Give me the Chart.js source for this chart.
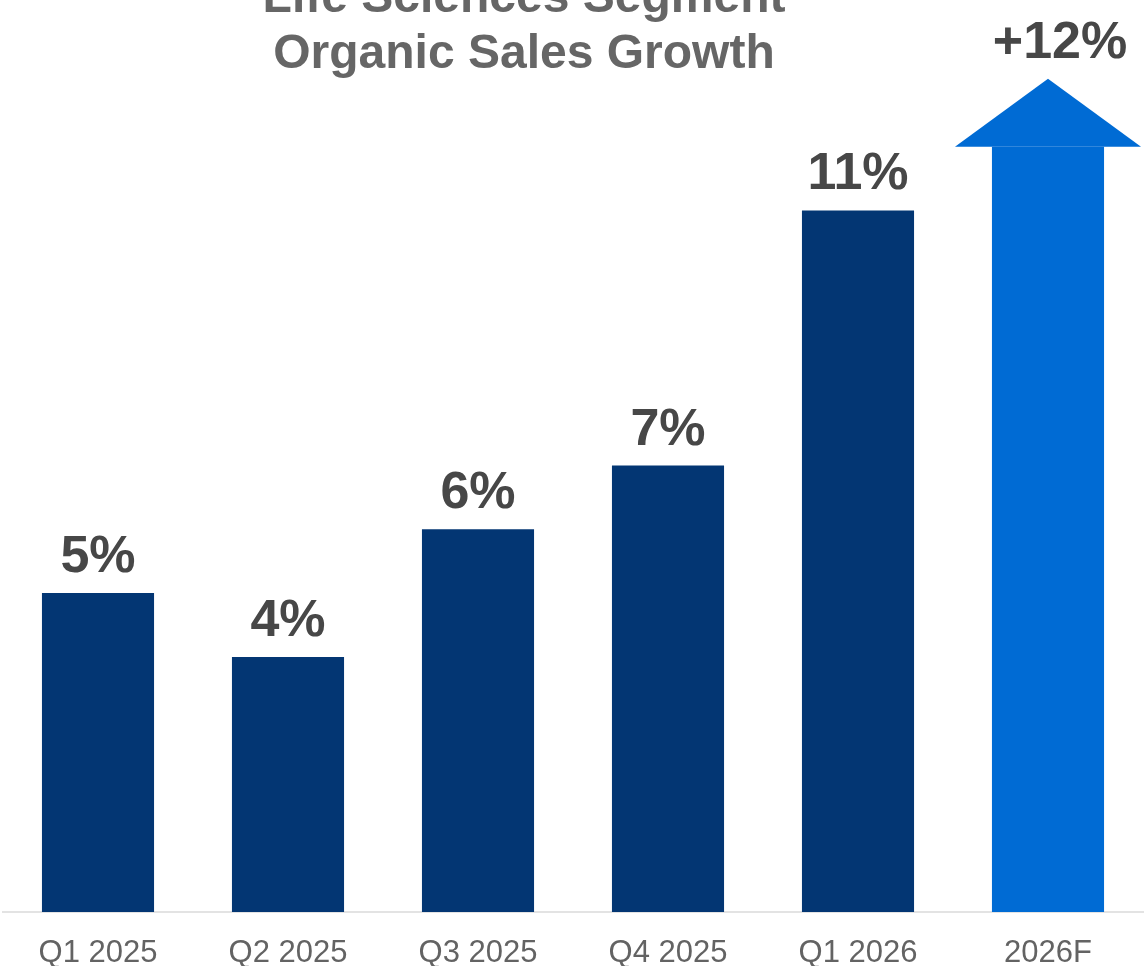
<!DOCTYPE html>
<html>
<head>
<meta charset="utf-8">
<title>Life Sciences Segment Organic Sales Growth</title>
<script src="https://cdn.jsdelivr.net/npm/chart.js@4.4.1/dist/chart.umd.min.js"></script>
<style>
  html, body { margin: 0; padding: 0; background: #ffffff; }
  #wrap { position: relative; width: 1145px; height: 966px; }
</style>
</head>
<body>
<div id="wrap"><canvas id="growth__canvas"></canvas></div>
<script>
const periods = ["Q1 2025", "Q2 2025", "Q3 2025", "Q4 2025", "Q1 2026", "2026F"];
const growthPct = [5, 4, 6, 7, 11, 12];
const growthLabels = ["5%", "4%", "6%", "7%", "11%", "+12%"];
const titleLines = ["Life Sciences Segment", "Organic Sales Growth"];

const FONT = '"Liberation Sans", Arial, Helvetica, sans-serif';
const NAVY = "#033673";
const BLUE = "#006bd4";
const FORECAST = periods.length - 1;

// two-line heading; the first line runs off the top edge
const headingPlugin = {
  id: "heading",
  afterDraw(chart) {
    const ctx = chart.ctx;
    ctx.save();
    ctx.fillStyle = "#666666";
    ctx.font = "bold 48px " + FONT;
    ctx.textAlign = "center";
    ctx.textBaseline = "alphabetic";
    ctx.fillText(titleLines[0], 524, 12);
    ctx.fillText(titleLines[1], 524, 68);
    ctx.restore();
  },
};

// the forecast column gets an arrow head on top of its bar
const arrowPlugin = {
  id: "arrowHead",
  afterDatasetsDraw(chart) {
    const bar = chart.getDatasetMeta(0).data[FORECAST];
    const ctx = chart.ctx;
    const half = bar.width * 0.83;
    ctx.save();
    ctx.fillStyle = BLUE;
    ctx.beginPath();
    ctx.moveTo(bar.x - half, bar.y);
    ctx.lineTo(bar.x, bar.y - 68);
    ctx.lineTo(bar.x + half, bar.y);
    ctx.closePath();
    ctx.fill();
    ctx.restore();
  },
};

const valueLabelPlugin = {
  id: "valueLabels",
  afterDatasetsDraw(chart) {
    const ctx = chart.ctx;
    ctx.save();
    ctx.fillStyle = "#474747";
    ctx.font = "bold 52px " + FONT;
    ctx.textAlign = "center";
    ctx.textBaseline = "alphabetic";
    chart.getDatasetMeta(0).data.forEach((bar, i) => {
      if (i === FORECAST) {
        ctx.fillText(growthLabels[i], bar.x + 12, bar.y - 68 - 21);
      } else {
        ctx.fillText(growthLabels[i], bar.x, bar.y - 21);
      }
    });
    ctx.restore();
  },
};

const ctx = document.getElementById("growth__canvas").getContext("2d");
new Chart(ctx, {
  type: "bar",
  data: {
    labels: periods,
    datasets: [
      {
        data: growthPct,
        backgroundColor: periods.map((p, i) => (i === FORECAST ? BLUE : NAVY)),
        borderWidth: 0,
        barPercentage: 0.59,
        categoryPercentage: 1,
      },
    ],
  },
  options: {
    responsive: true,
    maintainAspectRatio: false,
    animation: false,
    layout: { padding: { top: 0, left: 3, right: 2, bottom: 0 } },
    plugins: {
      legend: { display: false },
      tooltip: { enabled: false },
    },
    scales: {
      x: {
        grid: { display: false },
        border: { display: true, color: "#e3e3e3", width: 2 },
        ticks: {
          color: "#636363",
          padding: 16,
          maxRotation: 0,
          minRotation: 0,
          font: { family: FONT, size: 31, lineHeight: 1.1 },
        },
        // keep the category strip a fixed height under the baseline
        afterFit(scale) {
          scale.height = 54;
        },
      },
      y: {
        display: false,
        min: 0,
        max: 14.3,
      },
    },
  },
  plugins: [headingPlugin, arrowPlugin, valueLabelPlugin],
});
</script>
</body>
</html>
